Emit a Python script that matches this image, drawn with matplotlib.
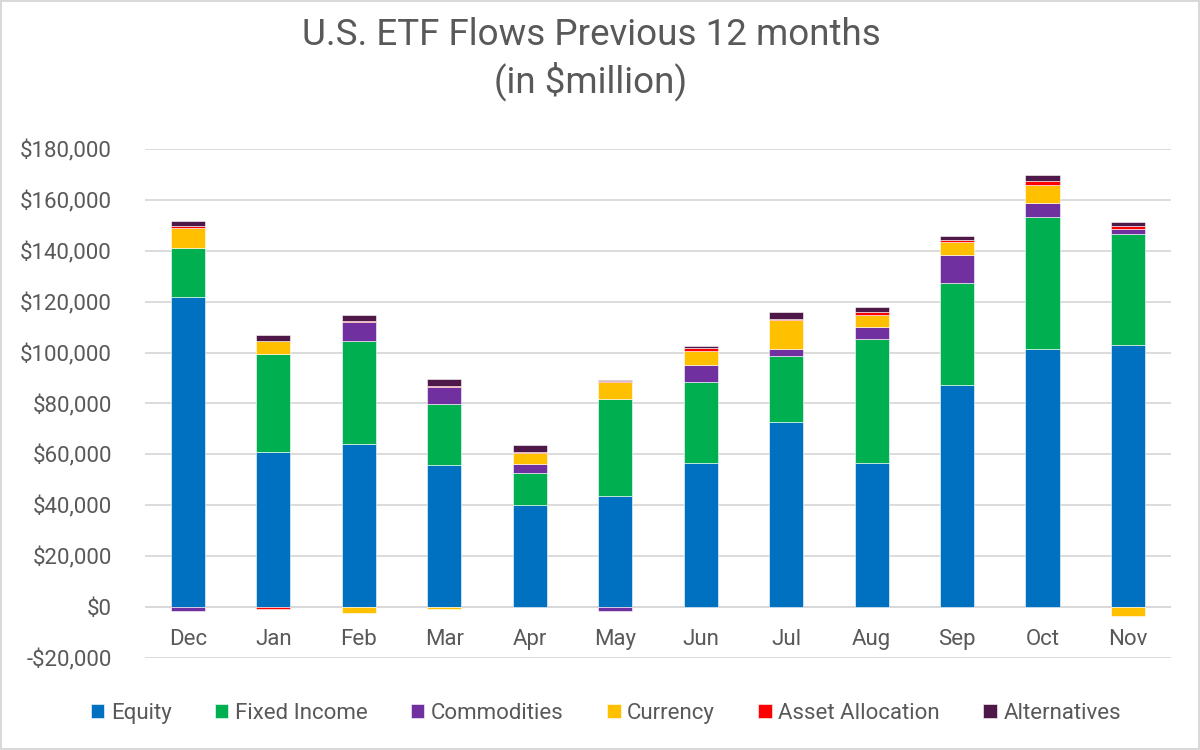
import matplotlib
matplotlib.use("Agg")
import matplotlib.pyplot as plt
import numpy as np
from matplotlib.ticker import FuncFormatter

plt.rcParams['font.family'] = ['Roboto', 'DejaVu Sans']

# Monthly flows, $ million
months = ['Dec', 'Jan', 'Feb', 'Mar', 'Apr', 'May', 'Jun', 'Jul', 'Aug', 'Sep', 'Oct', 'Nov']
equity = [121900, 61000, 64000, 55700, 40100, 43600, 56500, 72600, 56600, 87300, 101400, 103000]
fixed_income = [19100, 38300, 40700, 24100, 12700, 38200, 32100, 26200, 48600, 40100, 51800, 43700]
commodities = [-1400, 0, 7200, 6700, 3400, -1700, 6400, 2500, 4700, 11100, 5600, 1850]
currency = [8100, 5200, -2500, -600, 4300, 6500, 5700, 11500, 4800, 4900, 7200, -3500]
asset_allocation = [600, -800, 400, 400, 400, 500, 1300, 300, 1200, 900, 1600, 1200]
alternatives = [1850, 2400, 2600, 2750, 2600, 400, 600, 2750, 1850, 1600, 2000, 1450]

series = [
    ('Equity', equity, '#0070C0'),
    ('Fixed Income', fixed_income, '#00B050'),
    ('Commodities', commodities, '#7030A0'),
    ('Currency', currency, '#FFC000'),
    ('Asset Allocation', asset_allocation, '#FF0000'),
    ('Alternatives', alternatives, '#4E1848'),
]

text_color = '#595959'
grid_color = '#D9D9D9'

fig = plt.figure(figsize=(12, 7.5), dpi=100)
fig.patch.set_edgecolor(grid_color)
fig.patch.set_linewidth(1.5)
ax = fig.add_axes([0.121, 0.1227, 0.8546, 0.6786])

x = np.arange(len(months))
pos_bottom = np.zeros(len(months))
neg_bottom = np.zeros(len(months))
for name, vals, color in series:
    vals = np.array(vals, dtype=float)
    # positives stack upward from zero, negatives stack downward
    bottom = np.where(vals >= 0, pos_bottom, neg_bottom)
    ax.bar(x, vals, width=0.4, bottom=bottom, color=color, label=name,
           edgecolor='white', linewidth=0.4, zorder=3)
    pos_bottom += np.where(vals >= 0, vals, 0)
    neg_bottom += np.where(vals < 0, vals, 0)

ax.set_xlim(-0.5, len(months) - 0.5)
ax.set_ylim(-20000, 180000)
ax.set_yticks(np.arange(-20000, 180001, 20000))
ax.yaxis.set_major_formatter(FuncFormatter(
    lambda v, p: ('-$' if v < 0 else '$') + f'{abs(int(v)):,}'))
ax.set_xticks(x)
ax.set_xticklabels(months)

ax.grid(axis='y', color=grid_color, linewidth=1.3, zorder=0)
ax.axhline(0, color=grid_color, linewidth=1.3, zorder=1)
for s in ax.spines.values():
    s.set_visible(False)
ax.tick_params(axis='both', length=0, labelsize=16, labelcolor=text_color)
ax.tick_params(axis='y', pad=24)
ax.tick_params(axis='x', pad=-21)

fig.text(0.4925, 0.953, 'U.S. ETF Flows Previous 12 months', ha='center', va='center',
         fontsize=26.5, color=text_color)
fig.text(0.4925, 0.892, '(in $million)', ha='center', va='center',
         fontsize=26.5, color=text_color)

fig.legend(loc='center', bbox_to_anchor=(0.505, 0.049), ncol=6, frameon=False,
           fontsize=16, labelcolor=text_color, handlelength=0.6, handleheight=0.6,
           handletextpad=0.3, columnspacing=1.95)

fig.savefig('out.png', dpi=100, edgecolor=fig.get_edgecolor())
